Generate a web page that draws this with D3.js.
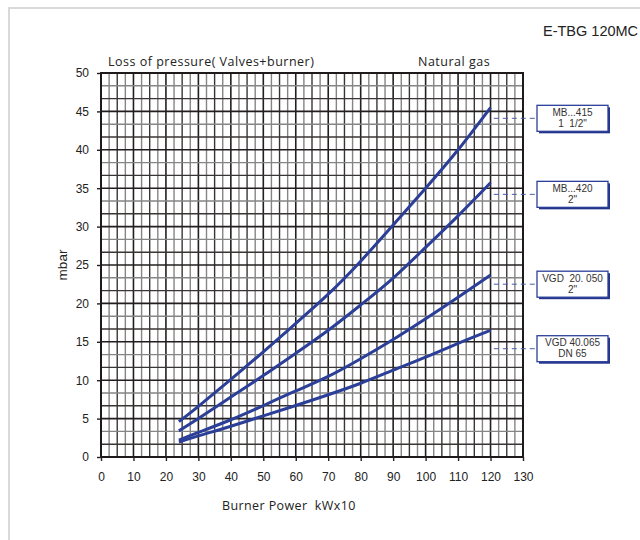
<!DOCTYPE html>
<html><head><meta charset="utf-8">
<script src="https://cdn.jsdelivr.net/npm/d3@7"></script>
<style>body{margin:0;background:#fff;} svg{display:block;}</style>
</head><body>
<svg id="c" width="640" height="540"></svg>
<script>
// ---- data ----
const powers = [24, 30, 40, 50, 60, 70, 80, 90, 100, 110, 120];
const mb415  = [4.6, 6.6, 10.1, 13.7, 17.4, 21.2, 25.5, 30.2, 35.0, 40.0, 45.5];
const mb420  = [3.4, 5.0, 7.8, 10.6, 13.5, 16.5, 19.8, 23.3, 27.3, 31.4, 35.7];
const vgd20  = [2.2, 3.2, 4.85, 6.7, 8.6, 10.5, 12.8, 15.3, 18.0, 20.8, 23.7];
const vgd40  = [1.95, 2.75, 4.0, 5.35, 6.7, 8.1, 9.6, 11.3, 13.0, 14.8, 16.5];
const seriesNames = ["MB...415", "MB...420", "VGD  20. 050", "VGD 40.065"];
const seriesSub = ["1  1/2\"", "2\"", "2\"", "DN 65"];
const labelLevels = [44.1, 34.2, 22.5, 14.1];
const xTicks = [0,10,20,30,40,50,60,70,80,90,100,110,120,130];
const yTicks = [0,5,10,15,20,25,30,35,40,45,50];
const series = [mb415, mb420, vgd20, vgd40];

const svg = d3.select("#c");
const x = d3.scaleLinear().domain([0,130]).range([101,523]);
const y = d3.scaleLinear().domain([0,50]).range([457,73]);

// outer frame (top + left)
svg.append("path").attr("d","M9,540V8H640").attr("fill","none").attr("stroke","#d9d9d9").attr("stroke-width",2);

// grid
const g = svg.append("g");
const vx = d3.range(0, 130.001, 2.5);
vx.forEach((v,i) => {
  const major = i % 4 === 0;
  const dark = i % 2 === 0;
  g.append("line").attr("x1",x(v)).attr("x2",x(v)).attr("y1",y(0)).attr("y2",y(50))
    .attr("stroke", major ? "#231f1f" : (dark ? "#3a3535" : "#858585"))
    .attr("stroke-width", major ? 1.6 : 1.4);
});
const hy = d3.range(0, 31).map(i => i*5/3);
hy.forEach((v,i) => {
  const major = i % 3 === 0;
  const dark = i % 3 === 1;
  g.append("line").attr("x1",x(0)).attr("x2",x(130)).attr("y1",y(v)).attr("y2",y(v))
    .attr("stroke", major ? "#231f1f" : (dark ? "#3a3535" : "#858585"))
    .attr("stroke-width", major ? 1.6 : 1.4);
});
// border
svg.append("rect").attr("x",x(0)).attr("y",y(50)).attr("width",x(130)-x(0)).attr("height",y(0)-y(50))
  .attr("fill","none").attr("stroke","#1e1a1a").attr("stroke-width",2);

// axes
const fontAx = "'Liberation Sans', Arial, sans-serif";
const xa = svg.append("g").attr("transform",`translate(0,${y(0)})`)
  .call(d3.axisBottom(x).tickValues(xTicks).tickSize(4).tickPadding(11).tickFormat(d3.format("d")));
const ya = svg.append("g").attr("transform",`translate(${x(0)},0)`)
  .call(d3.axisLeft(y).tickValues(yTicks).tickSize(4).tickPadding(8).tickFormat(d3.format("d")));
[xa, ya].forEach(a => {
  a.select(".domain").remove();
  a.selectAll("line").attr("stroke","#222").attr("stroke-width",1.4);
  a.selectAll("text").attr("font-family",fontAx).attr("font-size",12).attr("fill","#222");
});

// curves
const line = d3.line().x((d,i)=>x(powers[i])).y(d=>y(d)).curve(d3.curveNatural);
series.forEach(s => {
  svg.append("path").attr("d", line(s)).attr("fill","none")
    .attr("stroke","#2c3f98").attr("stroke-width",3).attr("stroke-linecap","butt");
});

// labels with leader lines
const bx = 537, bw = 71, bh = 26;
labelLevels.forEach((lv,i) => {
  const yy = y(lv);
  svg.append("line").attr("x1",x(121)).attr("x2",bx).attr("y1",yy).attr("y2",yy)
    .attr("stroke","#4a5cae").attr("stroke-width",1).attr("stroke-dasharray","5,4");
  const top = yy - 13;
  svg.append("rect").attr("x",bx+2).attr("y",top+2).attr("width",bw).attr("height",bh).attr("fill","#23358a");
  svg.append("rect").attr("x",bx).attr("y",top).attr("width",bw).attr("height",bh)
    .attr("fill","#fff").attr("stroke","#2c3f98").attr("stroke-width",1.3);
  svg.append("text").attr("x",bx+bw/2).attr("y",top+10.5).attr("text-anchor","middle")
    .attr("font-family",fontAx).attr("font-size",10).attr("fill","#333")
    .style("white-space","pre").text(seriesNames[i]);
  svg.append("text").attr("x",bx+bw/2).attr("y",top+21.5).attr("text-anchor","middle")
    .attr("font-family",fontAx).attr("font-size",10).attr("fill","#333")
    .style("white-space","pre").text(seriesSub[i]);
});

// texts
const fontT = "'Open Sans', 'DejaVu Sans', sans-serif";
svg.append("text").attr("x",543).attr("y",36).attr("font-family",fontAx).attr("font-size",14.5).attr("fill","#222").text("E-TBG 120MC");
svg.append("text").attr("x",108).attr("y",66).attr("font-family",fontT).attr("font-size",12.5)
  .attr("letter-spacing","0.5").style("white-space","pre").attr("fill","#222").text("Loss of pressure( Valves+burner)");
svg.append("text").attr("x",418).attr("y",66).attr("font-family",fontT).attr("font-size",12.5)
  .attr("letter-spacing","0.5").attr("fill","#222").text("Natural gas");
svg.append("text").attr("transform","translate(67,265) rotate(-90)").attr("text-anchor","middle")
  .attr("font-family",fontAx).attr("font-size",13.5).attr("fill","#222").text("mbar");
svg.append("text").attr("x",222).attr("y",510).attr("font-family",fontT).attr("font-size",12.5)
  .attr("letter-spacing","0.4").style("white-space","pre").attr("fill","#222").text("Burner Power  kWx10");
</script>
</body></html>
